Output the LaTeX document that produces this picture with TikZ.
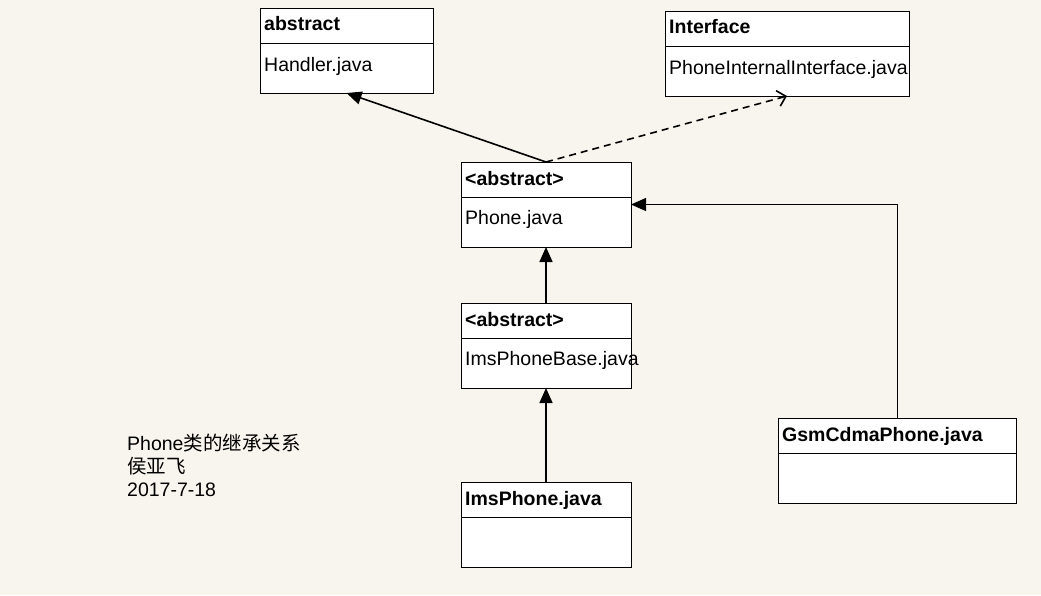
\documentclass[tikz,border=0pt]{standalone}
\usepackage{fontspec}
\setmainfont{Liberation Sans}
\newfontfamily\cjk{Noto Sans CJK SC}
\usetikzlibrary{arrows.meta}
\definecolor{paper}{HTML}{F8F5EE}
\tikzset{%
    classbox/.style = {draw, fill=white, line width=1pt, rectangle, inner sep=0pt, outer sep=0pt, anchor=north west, minimum height=85pt},
    title/.style = {anchor=base west, inner sep=0pt, font=\fontsize{19.5}{23}\selectfont\bfseries},
    member/.style = {anchor=base west, inner sep=0pt, font=\fontsize{19.5}{23}\selectfont},
    extends/.style = {line width=1.6pt, -{Triangle[length=15pt,width=13pt]}},
    implements/.style = {line width=1.6pt, dashed, dash pattern=on 7pt off 5pt, -{Straight Barb[length=8pt,width=16pt]}},
}

\begin{document}
\begin{tikzpicture}[x=1pt, y=-1pt]
        \useasboundingbox[fill=paper] (0,0) rectangle (1041,595);
        \draw
            node at (260,8) [classbox, minimum width=173pt] (handler) {}
            node at (665,11) [classbox, minimum width=244pt] (iface) {}
            node at (461,162) [classbox, minimum width=170pt] (phone) {}
            node at (461,303) [classbox, minimum width=170pt] (base) {}
            node at (461,482) [classbox, minimum width=170pt] (ims) {}
            node at (778,418) [classbox, minimum width=238pt] (gsm) {};

        \foreach \b in {handler,iface,phone,base,ims,gsm}
            \draw[line width=1pt] ([yshift=-35pt]\b.north west) -- ([yshift=-35pt]\b.north east);

        \node[title] (handler-t) at ([xshift=4pt,yshift=-22pt]handler.north west) {abstract};
        \node[member] (handler-m) at ([xshift=4pt,yshift=-63pt]handler.north west) {Handler.java};
        \node[title] (iface-t) at ([xshift=4pt,yshift=-22pt]iface.north west) {Interface};
        \node[member] (iface-m) at ([xshift=4pt,yshift=-63pt]iface.north west) {PhoneInternalInterface.java};
        \node[title] (phone-t) at ([xshift=4pt,yshift=-23pt]phone.north west) {<abstract>};
        \node[member] (phone-m) at ([xshift=4pt,yshift=-62pt]phone.north west) {Phone.java};
        \node[title] (base-t) at ([xshift=4pt,yshift=-23pt]base.north west) {<abstract>};
        \node[member] (base-m) at ([xshift=4pt,yshift=-62pt]base.north west) {ImsPhoneBase.java};
        \node[title] (ims-t) at ([xshift=4pt,yshift=-23pt]ims.north west) {ImsPhone.java};
        \node[title] (gsm-t) at ([xshift=4pt,yshift=-23pt]gsm.north west) {GsmCdmaPhone.java};

        \node[anchor=north west, inner sep=0pt, align=left, font=\fontsize{19.5}{23}\selectfont] (note) at (127,434)
            {Phone{\cjk 类的继承关系}\\{\cjk 侯亚飞}\\2017-7-18};

        \draw[extends] (phone.north) -- (handler.south);
        \draw[implements] (phone.north) -- (iface.south);
        \draw[extends] (base.north) -- (phone.south);
        \draw[extends] (ims.north) -- (base.south);
        \draw[extends, line width=1pt] (gsm.north) |- (phone.east);
    \end{tikzpicture}
\end{document}
